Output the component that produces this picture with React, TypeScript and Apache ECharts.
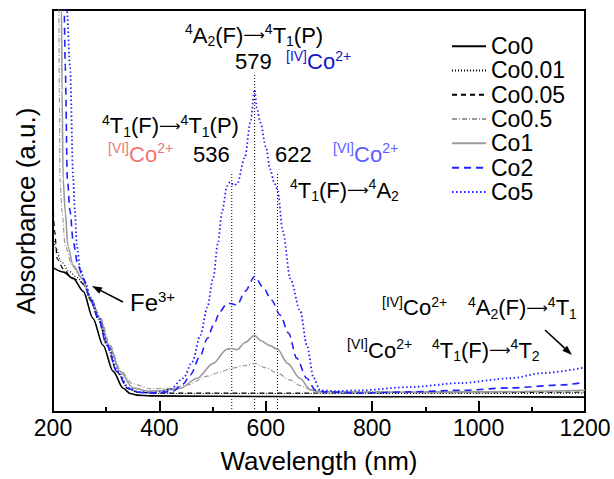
import React, { useEffect, useRef } from "react";
import * as echarts from "echarts";

const FONT = "'Liberation Sans', Arial, Helvetica, sans-serif";

// x tick labels
const X_MIN = 200;
const X_MAX = 1200;
const X_STEP = 200;

const NAMES = ["Co0", "Co0.01", "Co0.05", "Co0.5", "Co1", "Co2", "Co5"];

// [wavelength nm, absorbance a.u.]
const co0 = [[200,35.9],[220,34.8],[238,33.2],[257,30.0],[275,23.3],[294,16.6],[313,10.1],[332,5.9],[345,4.6],[358,4.2],[383,4.0],[500,3.9],[700,3.8],[1000,3.8],[1200,3.7]];
const co001 = [[200,44],[205,41],[215,37.5],[230,35],[245,33.5],[257,32],[270,28],[285,23],[301,16.6],[320,10],[341,5.8],[360,4.9],[400,4.6],[600,4.6],[900,4.6],[1200,4.7]];
const co005 = [[200,52],[203,45],[208,38],[220,35.5],[235,33.5],[250,32.5],[260,31.5],[272,27.5],[286,23],[302,16.6],[320,10],[341,5.8],[360,4.9],[400,4.7],[600,4.7],[900,4.8],[1200,4.9]];
const co05 = [[200,200],[211,100],[212,80],[213,58],[217,49.8],[223,41.3],[236,36.4],[251,33.7],[270,28.7],[290,23.3],[307,16.6],[328,10.1],[350,7],[383,5.8],[420,5.9],[452,6.7],[490,8.9],[515,10],[536,10.9],[560,11.5],[579,12.1],[600,11],[622,9.7],[645,8],[664,6.6],[689,5.3],[720,5.1],[900,5.0],[1200,5.0]];
const co1 = [[200,200],[216,100],[217,80],[219,58],[223,49.8],[228,41.3],[238,36.4],[255,33.2],[270,28.5],[288,23.3],[305,16.6],[326,10.1],[350,6],[380,5.2],[401,5.3],[420,5.6],[439,5.9],[471,8.4],[501,12.1],[527,15.6],[536,15.8],[546,15.5],[561,17.3],[579,19.1],[590,17.8],[608,16.5],[622,15.6],[641,12.1],[664,8.4],[684,5.5],[700,5.0],[800,4.9],[1000,5.0],[1200,5.4]];
const co2 = [[200,200],[221,100],[223,86],[227,58],[232,50],[238,42.3],[247,36.4],[257,33.2],[270,28],[285,23.3],[301,16.6],[320,10.1],[341,5.9],[360,4.9],[383,4.7],[401,4.8],[426,5.2],[445,7],[458,9.2],[477,14],[490,18.3],[503,22],[514,25],[527,27],[533,27],[546,26.6],[561,30],[579,33.7],[595,31],[611,27.8],[627,24.1],[643,19.6],[658,13.4],[677,8.4],[693,5.5],[710,5.0],[778,4.7],[870,5.0],[966,5.4],[1060,6.0],[1154,6.7],[1200,7.4]];
const co5 = [[200,200],[226,100],[232,86],[238,58],[241,50],[245,41.3],[251,35.6],[260,32.4],[272,28],[287,23.3],[303,16.6],[322,10.1],[342,6],[360,5.0],[383,4.8],[401,5.0],[420,5.6],[445,8.4],[462,12.5],[477,19.1],[490,26],[501,33.2],[510,42],[518,50],[527,56.2],[533,57.2],[540,56.4],[546,56.7],[561,63.6],[571,72],[579,80.2],[583,75.7],[590,72],[600,66],[608,60.4],[616,57],[622,55.4],[632,45],[646,33.2],[665,25],[677,16.7],[690,8.4],[702,5.4],[730,5.2],[778,5.4],[870,6.2],[966,7.2],[1060,8.4],[1122,9.7],[1200,11.1]];

const DATA = [co0, co001, co005, co05, co1, co2, co5];

// peak marker lines: [wavelength, top]
const PEAKS = [[536, 59.7], [579, 84.2], [622, 59.7]];

const STYLES = [
  { color: "#000000", type: "solid", width: 1.6 },
  { color: "#000000", type: [1, 2], width: 1.2 },
  { color: "#000000", type: [5, 4], width: 1.2 },
  { color: "#9a9a9a", type: [5, 2, 1, 2], width: 1.2 },
  { color: "#9a9a9a", type: "solid", width: 1.6 },
  { color: "#1f1fff", type: [7, 5], width: 1.6 },
  { color: "#1f1fff", type: [1.5, 2.5], width: 1.8 },
];

const ARROW = "\u27F6";

const RICH: any = {
  n: { fontSize: 22, lineHeight: 26, fontFamily: FONT, fill: "#000" },
  s: { fontSize: 14, lineHeight: 14, fontFamily: FONT, fill: "#000", verticalAlign: "top" },
  b: { fontSize: 14, lineHeight: 14, fontFamily: FONT, fill: "#000", verticalAlign: "bottom" },
  nB: { fontSize: 22, lineHeight: 26, fontFamily: FONT, fill: "#1414c8" },
  sB: { fontSize: 14, lineHeight: 14, fontFamily: FONT, fill: "#1414c8", verticalAlign: "top" },
  nP: { fontSize: 22, lineHeight: 26, fontFamily: FONT, fill: "#f07575" },
  sP: { fontSize: 14, lineHeight: 14, fontFamily: FONT, fill: "#f07575", verticalAlign: "top" },
  nL: { fontSize: 22, lineHeight: 26, fontFamily: FONT, fill: "#5c5cff" },
  sL: { fontSize: 14, lineHeight: 14, fontFamily: FONT, fill: "#5c5cff", verticalAlign: "top" },
  f: { fontSize: 24, lineHeight: 28, fontFamily: FONT, fill: "#000" },
  fs: { fontSize: 15, lineHeight: 15, fontFamily: FONT, fill: "#000", verticalAlign: "top" },
  a: { fontSize: 15, lineHeight: 26, fontFamily: "'DejaVu Sans', sans-serif", fill: "#000" },
};

function rt(x: number, cy: number, text: string, h = 26) {
  return {
    type: "text",
    x,
    y: cy - h / 2,
    z: 100,
    style: { text, rich: RICH, align: "left", verticalAlign: "top" },
  };
}

function arrow(x1: number, y1: number, x2: number, y2: number) {
  const dx = x2 - x1;
  const dy = y2 - y1;
  const len = Math.sqrt(dx * dx + dy * dy);
  const ux = dx / len;
  const uy = dy / len;
  const hl = 10;
  const hw = 3.5;
  const bx = x2 - ux * hl;
  const by = y2 - uy * hl;
  const px = -uy * hw;
  const py = ux * hw;
  return [
    { type: "line", z: 100, shape: { x1, y1, x2: bx, y2: by }, style: { stroke: "#000", lineWidth: 1.6 } },
    {
      type: "polygon",
      z: 100,
      shape: { points: [[x2, y2], [bx + px, by + py], [bx - px, by - py]] },
      style: { fill: "#000" },
    },
  ];
}

export default function App() {
  const ref = useRef<HTMLDivElement>(null);
  useEffect(() => {
    if (!ref.current) return;
    const chart = echarts.init(ref.current, null, { renderer: "svg" });
    const series: any[] = NAMES.map((name, i) => ({
      name,
      type: "line",
      data: DATA[i],
      symbol: "none",
      smooth: 0.3,
      smoothMonotone: "x",
      clip: true,
      lineStyle: { color: STYLES[i].color, type: STYLES[i].type, width: STYLES[i].width },
      itemStyle: { color: STYLES[i].color },
      z: 3 + i,
    }));
    PEAKS.forEach((p, i) => {
      series.push({
        name: "peak" + i,
        type: "line",
        data: [[p[0], 0], [p[0], p[1]]],
        symbol: "none",
        silent: true,
        lineStyle: { color: "#000", type: [1, 2], width: 1 },
        z: 2,
      });
    });
    const A = `{a|${ARROW}}`;
    const graphics: any[] = [
      rt(185, 35, `{s|4}{n|A}{b|2}{n|(F)}${A}{s|4}{n|T}{b|1}{n|(P)}`),
      rt(235, 61.5, "{n|579}"),
      rt(286, 61.5, "{sB|[IV]}{nB|Co}{sB|2+}"),
      rt(102, 125.5, `{s|4}{n|T}{b|1}{n|(F)}${A}{s|4}{n|T}{b|1}{n|(P)}`),
      rt(108, 154, "{sP|[VI]}{nP|Co}{sP|2+}"),
      rt(193, 154, "{n|536}"),
      rt(275, 154, "{n|622}"),
      rt(333, 154, "{sL|[VI]}{nL|Co}{sL|2+}"),
      rt(290, 190, `{s|4}{n|T}{b|1}{n|(F)}${A}{s|4}{n|A}{b|2}`),
      rt(130, 302.5, "{f|Fe}{fs|3+}", 28),
      rt(382, 307.5, "{s|[IV]}{n|Co}{s|2+}"),
      rt(468, 307.5, `{s|4}{n|A}{b|2}{n|(F)}${A}{s|4}{n|T}{b|1}`),
      rt(347, 350, "{s|[VI]}{n|Co}{s|2+}"),
      rt(432, 350, `{s|4}{n|T}{b|1}{n|(F)}${A}{s|4}{n|T}{b|2}`),
      ...arrow(123, 302, 92, 286),
      ...arrow(545, 330, 572, 355),
    ];
    chart.setOption({
      animation: false,
      backgroundColor: "#ffffff",
      grid: {
        left: 53,
        right: 29,
        top: 10,
        bottom: 65,
        show: true,
        borderColor: "#000",
        borderWidth: 2,
        backgroundColor: "transparent",
      },
      legend: {
        data: NAMES,
        orient: "vertical",
        left: 451,
        top: 34,
        padding: 0,
        itemGap: 0,
        itemWidth: 34,
        itemHeight: 14,
        itemStyle: { opacity: 0, color: "transparent", borderColor: "transparent", borderWidth: 0 },
        textStyle: { fontSize: 23, lineHeight: 24.3, fontFamily: FONT, color: "#000" },
      },
      xAxis: {
        type: "value",
        min: X_MIN,
        max: X_MAX,
        interval: X_STEP,
        name: "Wavelength (nm)",
        nameLocation: "middle",
        nameGap: 36,
        nameTextStyle: { fontSize: 26, fontFamily: FONT, color: "#000" },
        axisLine: { show: true, lineStyle: { color: "#000", width: 2 } },
        axisTick: { show: true, inside: true, length: 11, lineStyle: { color: "#000", width: 2 } },
        minorTick: { show: true, splitNumber: 2, length: 5, lineStyle: { color: "#000", width: 2 } },
        axisLabel: {
          fontSize: 23,
          fontFamily: FONT,
          color: "#000",
          margin: 4,
          formatter: (v: number) => String(v),
        },
        splitLine: { show: false },
      },
      yAxis: {
        type: "value",
        min: 0,
        max: 100,
        name: "Absorbance (a.u.)",
        nameLocation: "middle",
        nameGap: 14,
        nameTextStyle: { fontSize: 26, fontFamily: FONT, color: "#000" },
        axisLine: { show: true, lineStyle: { color: "#000", width: 2 } },
        axisTick: { show: false },
        axisLabel: { show: false },
        splitLine: { show: false },
      },
      series,
      graphic: graphics,
    });
    return () => chart.dispose();
  }, []);
  return (
    <div
      ref={ref}
      style={{ position: "absolute", left: 0, top: 0, width: 614, height: 479, background: "#fff" }}
    />
  );
}
